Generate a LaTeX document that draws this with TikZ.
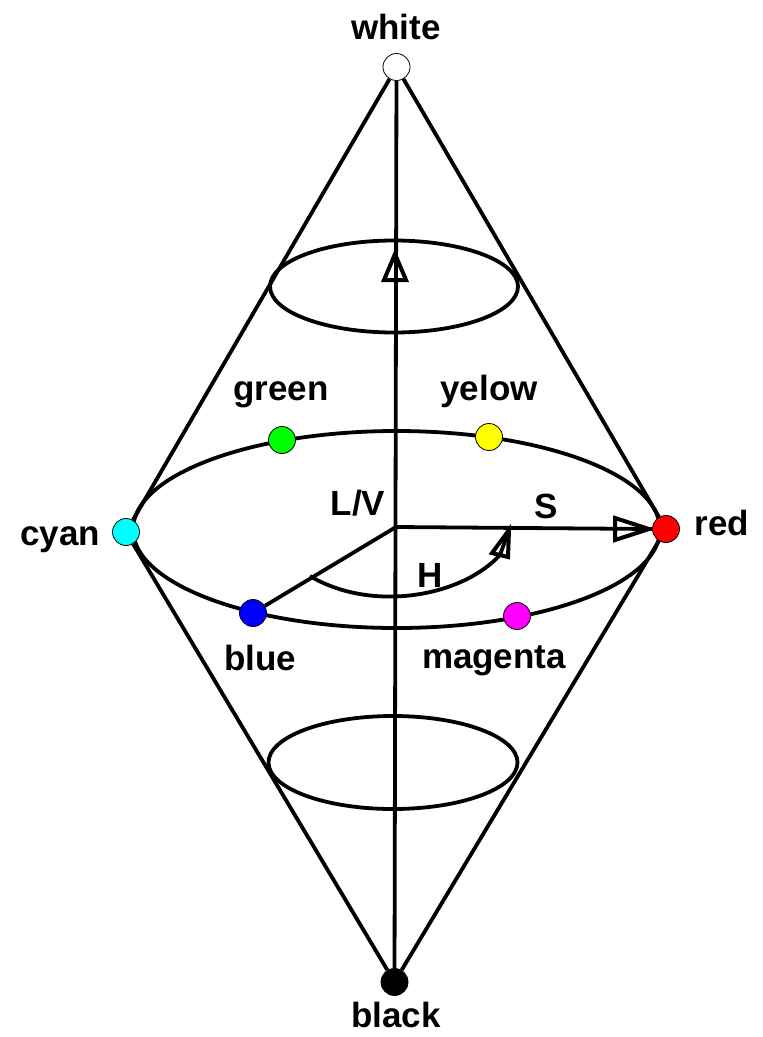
\documentclass[tikz,border=0pt]{standalone}
\usepackage{fontspec}
\setmainfont{Liberation Sans}
\usetikzlibrary{backgrounds}
\definecolor{cCyan}{RGB}{0,255,255}
\definecolor{cRed}{RGB}{255,0,0}
\definecolor{cGreen}{RGB}{0,255,0}
\definecolor{cYellow}{RGB}{255,255,0}
\definecolor{cBlue}{RGB}{0,0,255}
\definecolor{cMagenta}{RGB}{255,0,255}
\begin{document}
\begin{tikzpicture}[x=1pt,y=-1pt,
  dot/.style={circle,draw=black,line width=0.8pt,minimum size=27pt,inner sep=0pt},
  lbl/.style={font=\fontsize{35}{40}\selectfont\bfseries, anchor=base, inner sep=0pt},
  thick line/.style={line width=3.8pt},
  headline/.style={line width=4pt,line join=miter}]
\useasboundingbox (0,0) rectangle (763,1037);
% points
\node[dot,fill=white]    (white)   at (396.5,67) {};
\node[dot,fill=black]    (black)   at (394.5,982) {};
\node[dot,fill=cCyan]    (cyan)    at (126,532) {};
\node[dot,fill=cRed]     (red)     at (666,529) {};
\node[dot,fill=cGreen]   (green)   at (282,440) {};
\node[dot,fill=cYellow]  (yellow)  at (489,437) {};
\node[dot,fill=cBlue]    (blue)    at (253,613) {};
\node[dot,fill=cMagenta] (magenta) at (517,616) {};
\coordinate (c) at (396,527);
\coordinate (vt) at (395,254);
\coordinate (st) at (649,529);
\coordinate (h1) at (310,576);
\coordinate (h2) at (509,530);
\begin{scope}[on background layer={thick line}]
  \draw[thick line] (white) -- (cyan);
  \draw[thick line] (white) -- (red);
  \draw[thick line] (black) -- (cyan);
  \draw[thick line] (black) -- (red);
  \draw[thick line] (black) -- (white);
  \draw[thick line] (396.5,529.5) ellipse [x radius=263.5pt, y radius=98.5pt];
  \draw[thick line] (394,286.5) ellipse [x radius=124pt, y radius=46pt];
  \draw[thick line] (393,762.5) ellipse [x radius=124.5pt, y radius=46.5pt];
  \draw[thick line] (c) -- (red.west);
  \draw[thick line] (c) -- (blue);
  \draw[thick line] (h1) .. controls (370,612) and (460,598) .. ([shift={(-9,25)}]h2) -- (h2);
  % arrowheads
  \draw[headline] (vt) -- ([shift={(-11,26)}]vt) -- ([shift={(11,26)}]vt) -- cycle;
  \draw[headline] (st) -- ([shift={(-34,-11)}]st) -- ([shift={(-34,11)}]st) -- cycle;
  \draw[headline] (h2) -- ([shift={(-17,23)}]h2) -- ([shift={(-1,27)}]h2) -- cycle;
\end{scope}
% labels
\node[lbl] (lwhite) at (396,39) {white};
\node[lbl] (lgreen) at (281,400) {green};
\node[lbl] (lyelow) at (489,400) {yelow};
\node[lbl] (llv) at (358,515) {L/V};
\node[lbl] (ls) at (546,518) {S};
\node[lbl] (lcyan) at (60,545) {cyan};
\node[lbl] (lred) at (722,535) {red};
\node[lbl] (lh) at (430,587) {H};
\node[lbl] (lblue) at (260,670) {blue};
\node[lbl] (lmag) at (494,668) {magenta};
\node[lbl] (lblack) at (396,1027) {black};
\end{tikzpicture}
\end{document}
